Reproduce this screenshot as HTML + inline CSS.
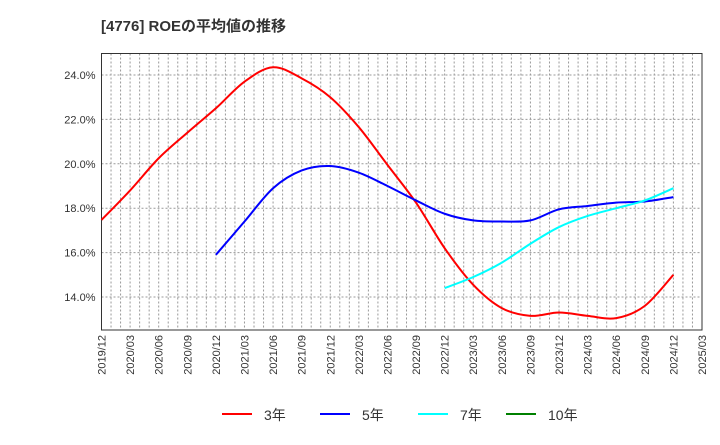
<!DOCTYPE html>
<html><head><meta charset="utf-8"><style>
body{margin:0;background:#fff;font-family:"Liberation Sans","Noto Sans CJK JP",sans-serif}
</style></head><body>
<svg width="720" height="440" xmlns="http://www.w3.org/2000/svg" font-family="Liberation Sans, Noto Sans CJK JP, sans-serif">
<text x="101" y="31" font-size="15" font-weight="bold" fill="#333">[4776]  ROEの平均値の推移</text>
<g id="grid"></g>
<g id="axes"></g>
<g id="series"></g>
<g id="legend"></g>
</svg>
<script>
const xLabels=["2019/12","2020/03","2020/06","2020/09","2020/12","2021/03","2021/06","2021/09","2021/12","2022/03","2022/06","2022/09","2022/12","2023/03","2023/06","2023/09","2023/12","2024/03","2024/06","2024/09","2024/12","2025/03"];
const yTicks=[14,16,18,20,22,24];
const s3=[17.47,18.8,20.25,21.4,22.5,23.7,24.35,23.85,23.0,21.65,19.95,18.25,16.2,14.55,13.5,13.15,13.3,13.15,13.05,13.6,15.0];
const s5=[15.9,17.4,18.9,19.7,19.9,19.6,19.0,18.35,17.75,17.45,17.4,17.45,17.95,18.1,18.25,18.3,18.5];
const s7=[14.4,14.9,15.55,16.4,17.15,17.65,18.0,18.35,18.9];
const s10=[];
const start3=0,start5=4,start7=12,start10=0;
const L=101.5,R=702,T=53.5,B=330;
const NS="http://www.w3.org/2000/svg";
function X(q){return L+(R-L)*q/21;}
function Y(v){return 297-(v-14)*22.2;}
function mk(t,a,p){const e=document.createElementNS(NS,t);for(const k in a)e.setAttribute(k,a[k]);(p||document.getElementById('grid')).appendChild(e);return e;}
const g=document.getElementById('grid'),ax=document.getElementById('axes'),se=document.getElementById('series'),lg=document.getElementById('legend');
for(let m=1;m<63;m++){const x=L+(R-L)*m/63;const l=mk('line',{x1:x,x2:x,y1:T,y2:B,stroke:'#999','stroke-dasharray':'2,2','stroke-width':1},g);

}
yTicks.forEach(v=>{const y=Y(v);const l=mk('line',{x1:L,x2:R,y1:y,y2:y,stroke:'#999','stroke-dasharray':'2,2','stroke-width':1},g);


const t=mk('text',{x:L-6,y:y+4,'text-anchor':'end','font-size':11,fill:'#333'},ax);t.textContent=v.toFixed(1)+'%';

});
const fr=mk('rect',{x:L,y:T,width:R-L,height:B-T,fill:'none',stroke:'#333','stroke-width':1},ax);


xLabels.forEach((s,i)=>{const x=X(i);const t=mk('text',{transform:`translate(${x+4},${B+5}) rotate(-90)`,'text-anchor':'end','font-size':11,fill:'#333'},ax);t.textContent=s;

});
function path(vals,st){const p=vals.map((v,i)=>[X(st+i),Y(v)]);if(p.length<2)return '';let d=`M${p[0][0]},${p[0][1]}`;
for(let i=0;i<p.length-1;i++){const p0=p[i-1]||p[i],p1=p[i],p2=p[i+1],p3=p[i+2]||p2;
d+=`C${p1[0]+(p2[0]-p0[0])/6},${p1[1]+(p2[1]-p0[1])/6} ${p2[0]-(p3[0]-p1[0])/6},${p2[1]-(p3[1]-p1[1])/6} ${p2[0]},${p2[1]}`;}return d;}
[[s3,start3,'#ff0000','series-3yr'],[s5,start5,'#0000ff','series-5yr'],[s7,start7,'#00ffff','series-7yr'],[s10,start10,'#008000','series-10yr']].forEach(a=>{
if(a[0].length<2)return;const e=mk('path',{d:path(a[0],a[1]),fill:'none',stroke:a[2],'stroke-width':2},se);

});
[[222,'#ff0000','3年'],[320,'#0000ff','5年'],[418,'#00ffff','7年'],[506,'#008000','10年']].forEach(a=>{
const l=mk('line',{x1:a[0],x2:a[0]+30,y1:414,y2:414,stroke:a[1],'stroke-width':2},lg);


const t=mk('text',{x:a[0]+42,y:420,'font-size':14,fill:'#333'},lg);t.textContent=a[2];

});
</script>
</body></html>
